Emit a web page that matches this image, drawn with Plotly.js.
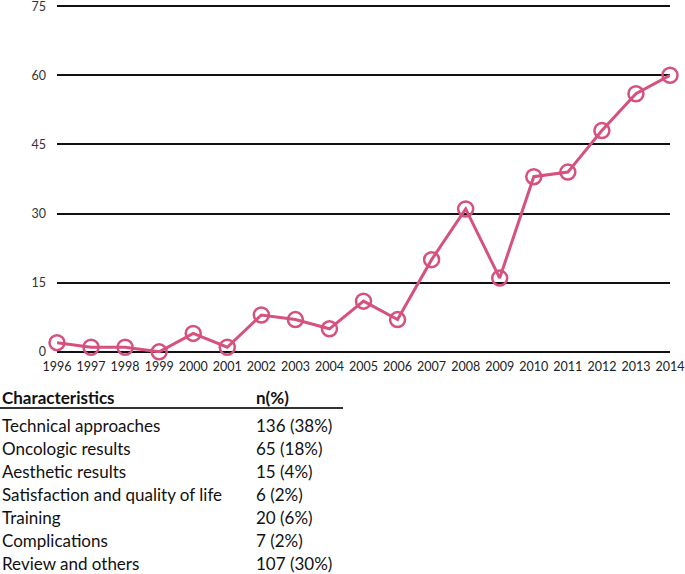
<!DOCTYPE html>
<html>
<head>
<meta charset="utf-8">
<script src="https://cdn.plot.ly/plotly-3.0.1.min.js"></script>
<style>html,body{margin:0;padding:0;background:#fff;}#chart{width:685px;height:574px;}</style>
</head>
<body>
<div id="chart"></div>
<script>
const years = [1996,1997,1998,1999,2000,2001,2002,2003,2004,2005,2006,2007,2008,2009,2010,2011,2012,2013,2014];
const counts = [2,1,1,0,4,1,8,7,5,11,7,20,31,16,38,39,48,56,60];
const yTicks = [0,15,30,45,60,75];

const tableHeader = ["Characteristics", "n(%)"];
const characteristics = ["Technical approaches","Oncologic results","Aesthetic results","Satisfaction and quality of life","Training","Complications","Review and others"];
const nPercent = ["136 (38%)","65 (18%)","15 (4%)","6 (2%)","20 (6%)","7 (2%)","107 (30%)"];

const W = 685, H = 574;
const M = {l:57, r:15, t:5, b:221};
const pw = W - M.l - M.r, ph = H - M.t - M.b;
const px = x => (x - M.l) / pw;
const py = y => (H - M.b - y) / ph;
const FONT = "Lato, 'Open Sans', sans-serif";
const PINK = "#d6517d";

const trace = {
  x: years, y: counts, type: "scatter", mode: "lines+markers",
  line: {color: PINK, width: 3},
  marker: {symbol: "circle-open", size: 15, color: PINK, line: {width: 2.5, color: PINK}},
  cliponaxis: false, hoverinfo: "x+y"
};

const annotations = [];
const col1 = 0, col2 = 254, rowStart = 425, rowStep = 23;
const TF = 17;
annotations.push({xref:"paper", yref:"paper", x: px(col1), y: py(397), xanchor:"left", yanchor:"middle", showarrow:false,
  text: "<b>" + tableHeader[0] + "</b>", font:{family: FONT, size:TF, color:"#111"}});
annotations.push({xref:"paper", yref:"paper", x: px(col2), y: py(397), xanchor:"left", yanchor:"middle", showarrow:false,
  text: "<b>" + tableHeader[1] + "</b>", font:{family: FONT, size:TF, color:"#111"}});
characteristics.forEach((c, i) => {
  const yy = rowStart + i * rowStep;
  annotations.push({xref:"paper", yref:"paper", x: px(col1), y: py(yy), xanchor:"left", yanchor:"middle", showarrow:false,
    text: c, font:{family: FONT, size:TF, color:"#111"}});
  annotations.push({xref:"paper", yref:"paper", x: px(col2), y: py(yy), xanchor:"left", yanchor:"middle", showarrow:false,
    text: nPercent[i], font:{family: FONT, size:TF, color:"#111"}});
});

const layout = {
  width: W, height: H,
  margin: {l: M.l, r: M.r, t: M.t, b: M.b},
  paper_bgcolor: "#fff", plot_bgcolor: "#fff",
  showlegend: false,
  font: {family: FONT, size: 12, color: "#333"},
  xaxis: {
    range: [1996, 2014], tickvals: years, ticktext: years.map(String),
    showgrid: false, zeroline: false, showline: false, ticks: "",
    tickfont: {family: FONT, size: 12.5, color: "#222"}, ticklabelstandoff: 4,
    ticklabeloverflow: "allow", fixedrange: true
  },
  yaxis: {
    range: [-0.25, 75.25], tickvals: yTicks, ticktext: yTicks.map(String),
    showgrid: true, gridcolor: "#111", gridwidth: 2, zeroline: false, showline: false, ticks: "",
    tickfont: {family: FONT, size: 12.5, color: "#333"}, ticklabelstandoff: 10,
    ticklabeloverflow: "allow", fixedrange: true
  },
  shapes: [
    {type:"line", xref:"paper", yref:"paper", x0: px(0), x1: px(343), y0: py(408), y1: py(408),
     line:{color:"#333", width:2}}
  ],
  annotations: annotations
};

Plotly.newPlot("chart", [trace], layout, {displayModeBar: false, staticPlot: true});
</script>
</body>
</html>
